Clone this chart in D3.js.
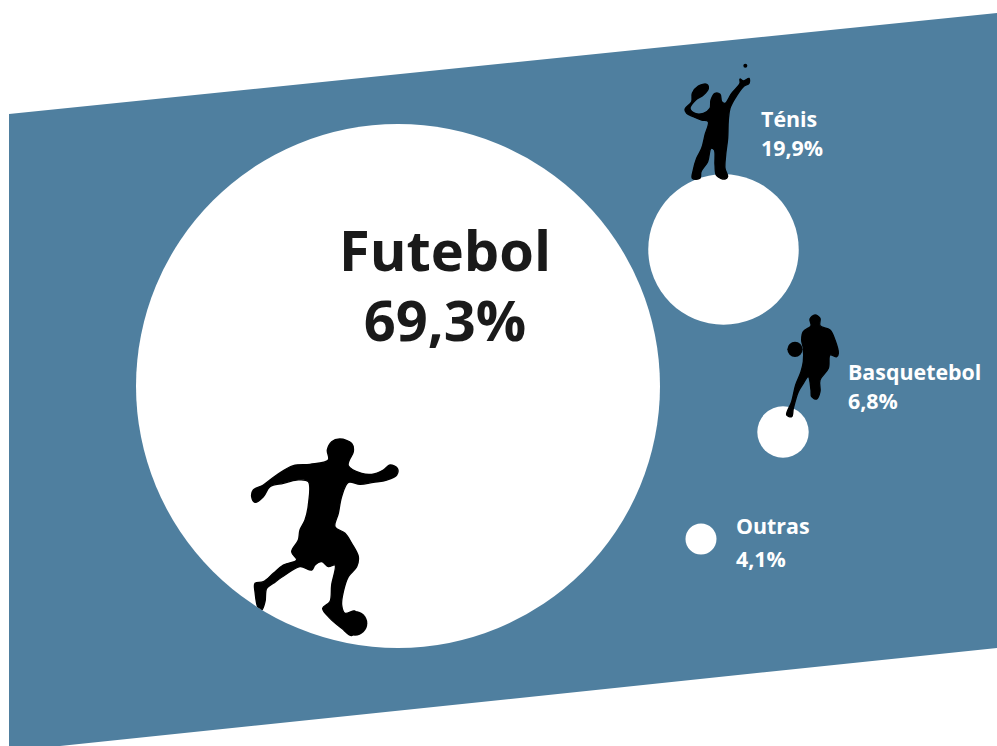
<!DOCTYPE html>
<html>
<head>
<meta charset="utf-8">
<script src="https://cdn.jsdelivr.net/npm/d3@7"></script>
<style>
  html, body { margin: 0; padding: 0; background: #fff; overflow: hidden; }
  text { font-family: "Open Sans", sans-serif; font-weight: 700; }
</style>
</head>
<body>
<svg id="chart" width="997" height="746"></svg>
<script>
// data
var categories = ["Futebol", "Ténis", "Basquetebol", "Outras"];
var shares = [69.3, 19.9, 6.8, 4.1];
var shareLabels = ["69,3%", "19,9%", "6,8%", "4,1%"];

// layout, one entry per category
var centers = [[398, 386], [723.5, 249.5], [783, 432], [701, 539]];
var labelPos = [[445, 271, 341], [761, 127, 156], [848, 380, 409], [736, 534, 567]];
var bandShape = [[9, 114], [997, 13], [997, 648], [60, 746], [9, 746]];

// silhouettes, traced in 3x zoom coordinates
var footballer = [[300,42],[335,55],[340,80],[328,105],[325,122],[365,145],[395,148],[430,135],[450,120],[472,130],[470,150],[440,165],[400,172],[360,178],[325,172],[305,215],[295,265],[285,305],[315,325],[335,355],[355,395],[350,425],[325,455],[310,500],[305,540],[315,565],[345,558],[345,600],[335,632],[305,610],[270,580],[248,550],[270,530],[275,480],[285,420],[265,425],[245,410],[225,420],[215,435],[180,425],[135,450],[100,475],[80,490],[75,530],[65,555],[55,550],[45,500],[45,475],[70,470],[100,445],[130,420],[170,405],[155,380],[175,345],[180,315],[195,285],[205,240],[205,170],[170,165],[130,175],[90,185],[70,215],[45,232],[35,215],[40,195],[70,180],[110,150],[160,122],[210,118],[265,105],[262,75],[275,50]];
var tennisPlayer = [[30,162],[50,140],[52,115],[70,93],[95,88],[100,100],[85,120],[62,135],[45,160],[60,175],[85,175],[105,160],[108,135],[120,115],[135,118],[140,140],[150,145],[170,115],[195,85],[195,72],[205,78],[222,70],[222,85],[205,95],[180,130],[165,160],[160,195],[158,250],[152,300],[150,340],[158,365],[150,372],[125,362],[120,330],[118,285],[108,280],[98,320],[78,350],[75,370],[52,370],[55,345],[65,310],[80,280],[90,240],[100,200],[80,195],[55,185],[35,175]];
var basketPlayer = [[120,30],[135,40],[135,62],[165,75],[180,105],[190,145],[185,155],[165,150],[160,190],[135,225],[135,260],[125,282],[110,275],[108,255],[100,215],[85,235],[70,260],[55,310],[50,335],[35,330],[50,290],[62,240],[78,200],[85,170],[85,130],[80,105],[85,80],[108,62],[105,42]];

var svg = d3.select("#chart");

var r = d3.scaleLinear().domain([0, 69.3]).range([0, 262]);

svg.append("polygon")
    .attr("points", bandShape.join(" "))
    .attr("fill", "#4f7f9f");

var defs = svg.append("defs");
defs.append("clipPath").attr("id", "bigCircle")
  .append("circle")
    .attr("cx", centers[0][0])
    .attr("cy", centers[0][1])
    .attr("r", r(shares[0]));

svg.selectAll("circle.bubble")
    .data(shares)
    .enter().append("circle")
      .attr("class", "bubble")
      .attr("cx", function(d, i) { return centers[i][0]; })
      .attr("cy", function(d, i) { return centers[i][1]; })
      .attr("r", function(d) { return r(d); })
      .attr("fill", "#fff");

var outline = d3.line().curve(d3.curveCatmullRomClosed.alpha(0.5));

function figure(points, ox, oy, clip) {
  var g = svg.append("g")
      .attr("fill", "#000");
  if (clip) g.attr("clip-path", "url(#bigCircle)");
  var inner = g.append("g")
      .attr("transform", "translate(" + ox + "," + oy + ") scale(" + (1 / 3) + ")");
  inner.append("path")
      .attr("d", outline(points))
      .attr("stroke", "#000")
      .attr("stroke-width", 4)
      .attr("stroke-linejoin", "round");
  return inner;
}

figure(footballer, 240, 425, true).append("circle")
    .attr("cx", 345).attr("cy", 595).attr("r", 37);

figure(tennisPlayer, 675, 55).append("circle")
    .attr("cx", 211).attr("cy", 32).attr("r", 6);

figure(basketPlayer, 775, 305).append("circle")
    .attr("cx", 60).attr("cy", 133).attr("r", 23);

// labels
svg.selectAll("text.name")
    .data(categories)
    .enter().append("text")
      .attr("class", "name")
      .attr("x", function(d, i) { return labelPos[i][0]; })
      .attr("y", function(d, i) { return labelPos[i][1]; })
      .attr("text-anchor", function(d, i) { return i === 0 ? "middle" : "start"; })
      .attr("font-size", function(d, i) { return i === 0 ? 56 : 21.4; })
      .attr("fill", function(d, i) { return i === 0 ? "#1a1a1a" : "#fff"; })
      .text(function(d) { return d; });

svg.selectAll("text.share")
    .data(shareLabels)
    .enter().append("text")
      .attr("class", "share")
      .attr("x", function(d, i) { return labelPos[i][0]; })
      .attr("y", function(d, i) { return labelPos[i][2]; })
      .attr("text-anchor", function(d, i) { return i === 0 ? "middle" : "start"; })
      .attr("font-size", function(d, i) { return i === 0 ? 56 : 21.4; })
      .attr("fill", function(d, i) { return i === 0 ? "#1a1a1a" : "#fff"; })
      .text(function(d) { return d; });
</script>
</body>
</html>
